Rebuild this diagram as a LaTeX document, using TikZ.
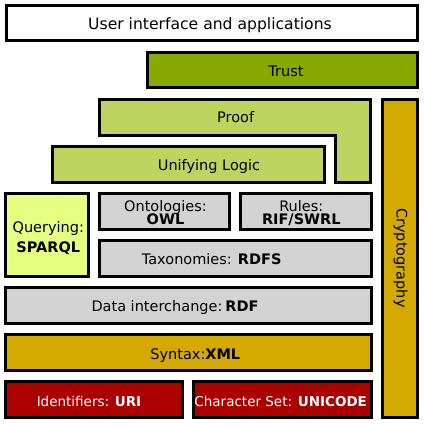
\documentclass[tikz,border=0pt]{standalone}
\usepackage{fontspec}
\setmainfont{DejaVu Sans}
\definecolor{trustc}{RGB}{136,170,0}
\definecolor{logicc}{RGB}{191,212,96}
\definecolor{queryc}{RGB}{229,255,128}
\definecolor{grayc}{RGB}{211,211,211}
\definecolor{goldc}{RGB}{212,170,0}
\definecolor{redc}{RGB}{170,0,0}
\tikzset{
  box/.style={draw=black, line width=3pt, inner sep=0pt},
  lbl/.style={inner sep=0pt, anchor=base, font=\fontsize{14.5}{17}\selectfont},
  redlbl/.style={lbl, text=white, font=\fontsize{13.5}{16}\selectfont}
}
\begin{document}
\begin{tikzpicture}[x=1pt,y=-1pt]
\useasboundingbox (0,0) rectangle (427,425);
% boxes
\node[box, fill=white, minimum width=411.5pt, minimum height=35pt] (ui) at (211.75,23.5) {};
\node[box, fill=trustc, minimum width=270.3pt, minimum height=35pt] (trust) at (282.3,70) {};
\draw[line width=3pt, fill=logicc] (99.8,99.8) -- (370.5,99.8) -- (370.5,182.2) -- (335.5,182.2) -- (335.5,135.2) -- (99.8,135.2) -- cycle;
\node[box, fill=logicc, minimum width=272pt, minimum height=35.7pt] (logic) at (188.2,164.3) {};
\node[box, fill=goldc, minimum width=35pt, minimum height=318.3pt] (crypto) at (400,258.7) {};
\node[box, fill=queryc, minimum width=83pt, minimum height=82.4pt] (query) at (47,235) {};
\node[box, fill=grayc, minimum width=129.7pt, minimum height=35.4pt] (onto) at (164.7,211.5) {};
\node[box, fill=grayc, minimum width=131pt, minimum height=35.4pt] (rules) at (306,211.5) {};
\node[box, fill=grayc, minimum width=271.7pt, minimum height=35.7pt] (tax) at (235.7,258.3) {};
\node[box, fill=grayc, minimum width=366pt, minimum height=36pt] (data) at (188.5,305.5) {};
\node[box, fill=goldc, minimum width=366pt, minimum height=35.4pt] (syntax) at (188.5,352.5) {};
\node[box, fill=redc, minimum width=177.3pt, minimum height=36.3pt] (ident) at (94.2,399.7) {};
\node[box, fill=redc, minimum width=177.7pt, minimum height=36.3pt] (chars) at (282.7,399.7) {};
% labels
\node[lbl, font=\fontsize{15.6}{18}\selectfont] (uit) at (210,29.3) {User interface and applications};
\node[lbl] (trustt) at (286,76.7) {Trust};
\node[lbl] (prooft) at (235.7,122.7) {Proof};
\node[lbl] (logict) at (209,170.7) {Unifying Logic};
\node[lbl, rotate=-90, anchor=center] (cryptot) at (400.5,258) {Cryptography};
\node[lbl] (queryt1) at (48.3,232.7) {Querying:};
\node[lbl] (queryt2) at (48.3,252.3) {\textbf{SPARQL}};
\node[lbl] (ontot1) at (165.5,211) {Ontologies:};
\node[lbl] (ontot2) at (165.5,224.5) {\textbf{OWL}};
\node[lbl] (rulest1) at (301.3,211) {Rules:};
\node[lbl] (rulest2) at (301.3,224.5) {\textbf{RIF/SWRL}};
\node[lbl] (taxt) at (211.7,264.3) {Taxonomies: \textbf{RDFS}};
\node[lbl] (datat) at (175,311.3) {Data interchange:\hspace{0.2em}\textbf{RDF}};
\node[lbl] (syntaxt) at (195.3,359) {Syntax:\textbf{XML}};
\node[redlbl] (identt) at (89,406) {Identifiers: \textbf{URI}};
\node[redlbl] (charst) at (280.7,406) {Character Set: \textbf{UNICODE}};
\end{tikzpicture}
\end{document}
